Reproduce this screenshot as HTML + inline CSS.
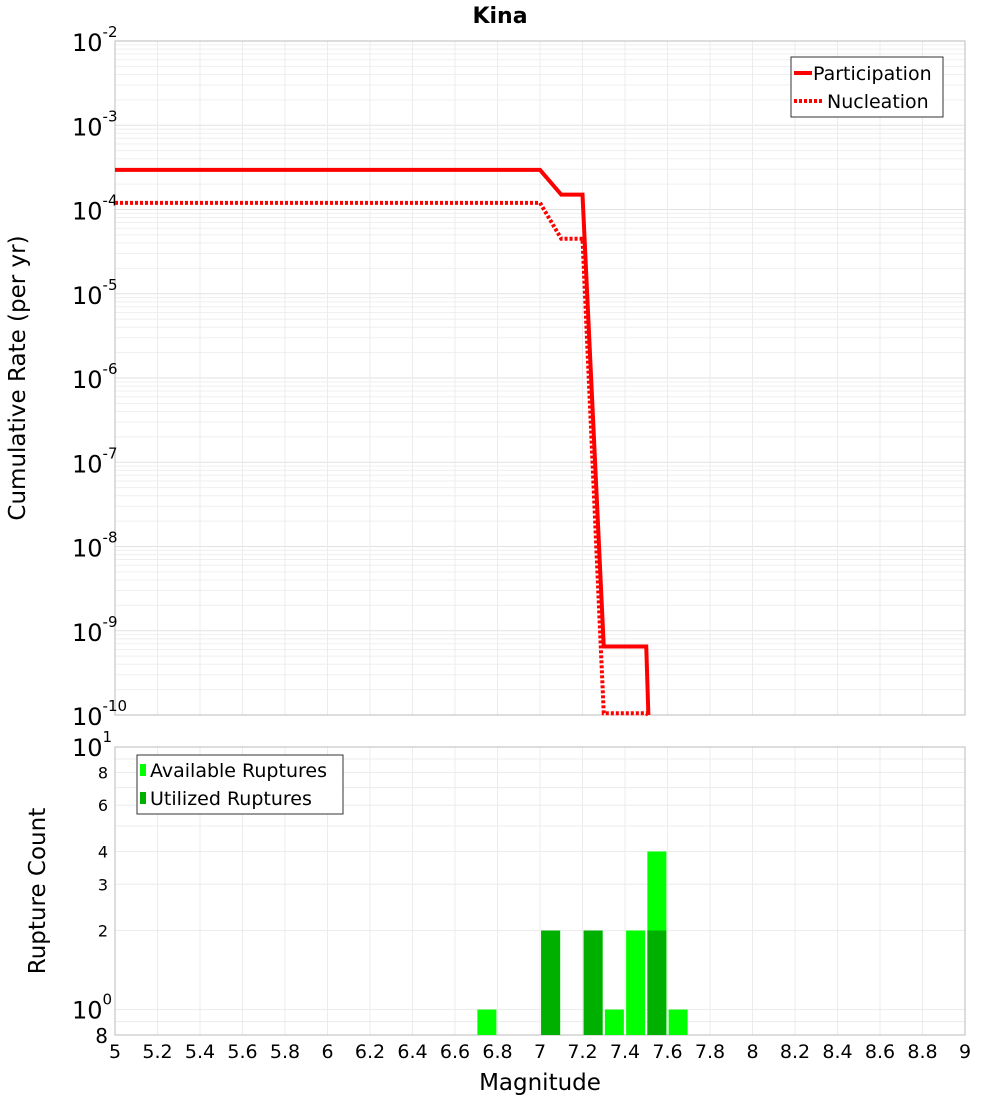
<!DOCTYPE html>
<html><head><meta charset="utf-8"><style>
body{margin:0;background:#fff;font-family:"DejaVu Sans","Liberation Sans",sans-serif}
svg text{font-family:"DejaVu Sans","Liberation Sans",sans-serif}
</style></head><body>
<svg id="c" width="1000" height="1100" xmlns="http://www.w3.org/2000/svg">
<text x="500" y="23" text-anchor="middle" font-size="22" font-weight="bold">Kina</text>
<text transform="translate(25,378) rotate(-90)" text-anchor="middle" font-size="23">Cumulative Rate (per yr)</text>
<text transform="translate(45,891) rotate(-90)" text-anchor="middle" font-size="23">Rupture Count</text>
<text x="540" y="1090" text-anchor="middle" font-size="23">Magnitude</text>
</svg>
<script>
const partMag=[5,7.0,7.1,7.2,7.3,7.5,7.51];
const partRate=[2.95e-4,2.95e-4,1.5e-4,1.5e-4,6.5e-10,6.5e-10,1e-10];
const nuclMag=[5,7.0,7.1,7.2,7.3,7.5,7.51];
const nuclRate=[1.2e-4,1.2e-4,4.5e-5,4.5e-5,1.05e-10,1.05e-10,1e-10];
const binMag=[6.75,7.05,7.25,7.35,7.45,7.55,7.65];
const availCount=[1,2,2,1,2,4,1];
const usedCount=[0,2,2,0,0,2,0];
const xTicks=[5,5.2,5.4,5.6,5.8,6,6.2,6.4,6.6,6.8,7,7.2,7.4,7.6,7.8,8,8.2,8.4,8.6,8.8,9];
const topExp=[-2,-3,-4,-5,-6,-7,-8,-9,-10];
const botTicks=[[10,"10","1"],[8,"8"],[6,"6"],[4,"4"],[3,"3"],[2,"2"],[1,"10","0"],[0.8,"8"]];

const svg=document.getElementById('c'),NS='http://www.w3.org/2000/svg';
const L=115,R=965,T1=41,B1=715,T2=747,B2=1035;
const X=m=>L+(m-5)/4*(R-L);
const Y1=v=>T1+(-2-Math.log10(v))/8*(B1-T1);
const Y2=v=>T2+(1-Math.log10(v))/(1-Math.log10(0.8))*(B2-T2);
function el(t,a,p){const e=document.createElementNS(NS,t);for(const k in a)e.setAttribute(k,a[k]);(p||svg).appendChild(e);return e;}
function line(x1,y1,x2,y2,s,w){return el('line',{x1,y1,x2,y2,stroke:s,'stroke-width':w||1});}
for(let e=-10;e<-2;e++)for(let k=1;k<10;k++){const y=Y1(k*Math.pow(10,e));const g=line(L,y,R,y,k==1?'#e2e2e2':'#efefef');

}
xTicks.forEach(m=>{const g=line(X(m),T1,X(m),B1,'#ececec');


const g2=line(X(m),T2,X(m),B2,'#ececec');

});
[0.9,1,2,3,4,5,6,7,8,9].forEach(v=>{const g=line(L,Y2(v),R,Y2(v),'#ececec');

});
let f=el('rect',{x:L,y:T1,width:R-L,height:B1-T1,fill:'none',stroke:'#bbb'});


f=el('rect',{x:L,y:T2,width:R-L,height:B2-T2,fill:'none',stroke:'#bbb'});


topExp.forEach(e=>{const y=Y1(Math.pow(10,e));const t=el('text',{x:72,y:y+10,'font-size':24});


t.textContent='10';const s=el('tspan',{dy:-14,'font-size':15},t);s.textContent=e;});
botTicks.forEach((b,i)=>{const y=Y2(b[0]);const big=b.length==3;const last=i==botTicks.length-1;
const t=el('text',{x:108,y:y+(big?9:(last?8:6)),'font-size':big?24:(last?20:16),'text-anchor':'end'});


if(big){t.setAttribute('text-anchor','start');t.setAttribute('x',72);t.textContent=b[1];const s=el('tspan',{dy:-14,'font-size':15},t);s.textContent=b[2];}else t.textContent=b[1];});
xTicks.forEach(m=>{const t=el('text',{x:X(m),y:1058,'font-size':19,'text-anchor':'middle'});


t.textContent=String(m);});
function path(ms,vs,dash,name){const p=el('polyline',{points:ms.map((m,i)=>X(m)+','+Math.min(Y1(vs[i]),B1)).join(' '),fill:'none',stroke:'#f00','stroke-width':4,'stroke-dasharray':dash||'none'});

}
path(nuclMag,nuclRate,'3,2','nucleation-line');
path(partMag,partRate,null,'participation-line');
const bw=19;
binMag.forEach((m,i)=>{const r=el('rect',{x:X(m)-bw/2,y:Y2(availCount[i]),width:bw,height:B2-Y2(availCount[i]),fill:'#00ff00'});


if(usedCount[i]>0){const u=el('rect',{x:X(m)-bw/2,y:Y2(usedCount[i]),width:bw,height:B2-Y2(usedCount[i]),fill:'#00b000'});

}});
let g=el('g',{});
el('rect',{x:791,y:57,width:152,height:60,fill:'#fff',stroke:'#333'},g);
el('line',{x1:794,y1:73,x2:812,y2:73,stroke:'#f00','stroke-width':4},g);
el('line',{x1:794,y1:101,x2:822,y2:101,stroke:'#f00','stroke-width':4,'stroke-dasharray':'3,2'},g);
let t=el('text',{x:813,y:80,'font-size':19},g);t.textContent='Participation';
t=el('text',{x:827,y:108,'font-size':19},g);t.textContent='Nucleation';
g=el('g',{});
el('rect',{x:137,y:755,width:206,height:59,fill:'#fff',stroke:'#333'},g);
el('rect',{x:140,y:764,width:6,height:12,fill:'#00ff00'},g);
el('rect',{x:140,y:792,width:6,height:12,fill:'#00b000'},g);
t=el('text',{x:150,y:777,'font-size':19},g);t.textContent='Available Ruptures';
t=el('text',{x:150,y:805,'font-size':19},g);t.textContent='Utilized Ruptures';
</script>
</body></html>
